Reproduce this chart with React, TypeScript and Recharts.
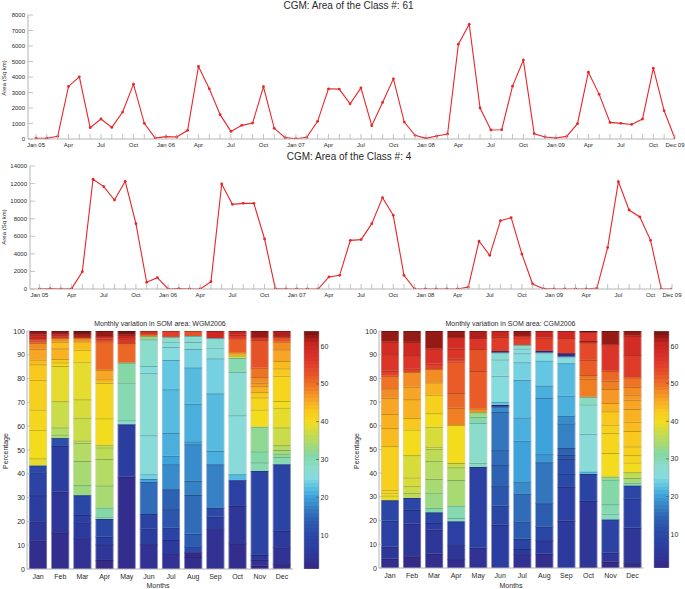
import React from 'react';
import { LineChart, Line, XAxis, YAxis, BarChart, Bar } from 'recharts';

// ---------- line chart data ----------
const monthIndex = Array.from({ length: 60 }, (_, i) => i);
const class61Area = [50, 50, 170, 3390, 4010, 730, 1290, 750, 1740, 3540, 1010, 60,
  150, 130, 560, 4680, 3240, 1570, 490, 880, 1030, 3370, 690, 90,
  20, 110, 1140, 3240, 3220, 2270, 3300, 860, 2360, 3880, 1090, 240,
  40, 190, 320, 6120, 7400, 2000, 580, 600, 3410, 5090, 340, 130,
  60, 170, 990, 4310, 2880, 1070, 1010, 940, 1290, 4570, 1820, 20];
const class4Area = [0, 40, 0, 40, 1970, 12490, 11650, 10130, 12260, 7440, 760, 1290,
  0, 40, 0, 0, 830, 11950, 9640, 9750, 9750, 5690, 40, 0,
  0, 0, 0, 1370, 1560, 5540, 5620, 7440, 10400, 8390, 1560, 0,
  0, 0, 0, 0, 230, 5460, 3830, 7780, 8120, 3980, 570, 40,
  0, 0, 0, 0, 110, 4710, 12220, 8990, 8200, 5540, 0, 0];
const lineTickIndex = [0, 3, 6, 9, 12, 15, 18, 21, 24, 27, 30, 33, 36, 39, 42, 45, 48, 51, 54, 57, 59];
const lineTickText = ['Jan 05', 'Apr', 'Jul', 'Oct', 'Jan 06', 'Apr', 'Jul', 'Oct', 'Jan 07', 'Apr', 'Jul', 'Oct',
  'Jan 08', 'Apr', 'Jul', 'Oct', 'Jan 09', 'Apr', 'Jul', 'Oct', 'Dec 09'];
const class61Ticks = [0, 1000, 2000, 3000, 4000, 5000, 6000, 7000, 8000];
const class4Ticks = [0, 2000, 4000, 6000, 8000, 10000, 12000, 14000];

// ---------- stacked bar data: [class number, percentage] from bottom to top ----------
const months = ['Jan', 'Feb', 'Mar', 'Apr', 'May', 'Jun', 'Jul', 'Aug', 'Sep', 'Oct', 'Nov', 'Dec'];
const pctTicks = [0, 10, 20, 30, 40, 50, 60, 70, 80, 90, 100];
const colorbarTicks = [10, 20, 30, 40, 50, 60];
const colorbarRange = [{ k: 'cb', range: [1, 64] }];

const wgmSegments: [number, number][][] = [
  [[2, 12], [4, 8], [6, 11], [8, 9.6], [10, 2.9], [39, 3], [40, 12], [41, 8.5], [42, 12.5], [43, 6.5], [44, 2], [46, 4.5], [48, 2.5], [52, 1], [56, 1], [60, 1.5], [63, 1.5]],
  [[2, 15.4], [4, 17.1], [6, 19.2], [11, 3.3], [34, 1.5], [35, 3], [37, 11], [39, 14.8], [41, 1.5], [43, 1.4], [45, 4.5], [44, 2.8], [48, 1.5], [52, 0.5], [58, 1], [63, 1.5]],
  [[1, 0.3], [3, 12.6], [5, 6.7], [7, 3.1], [9, 8.3], [33, 4.2], [34, 10.2], [35, 7.6], [36, 1], [37, 9.6], [38, 7.7], [39, 15.8], [41, 5], [44, 3.5], [48, 1.5], [62, 1.5], [64, 1.4]],
  [[1, 3.8], [4, 6.6], [6, 3.2], [9, 7.4], [30, 1], [31, 3.8], [34, 9.3], [35, 11.1], [36, 4.9], [37, 1.1], [40, 11.1], [41, 14.9], [44, 1.5], [46, 4], [51, 11.9], [55, 1.2], [59, 1], [63, 2.2]],
  [[2, 38.8], [6, 22], [28, 1.7], [30, 15.8], [31, 8.4], [51, 8.2], [57, 2], [61, 1.5], [64, 1.6]],
  [[3, 10.4], [6, 6.6], [8, 6.1], [15, 13.6], [20, 1.1], [24, 2], [26, 16.4], [27, 26.2], [25, 2.9], [28, 11.2], [33, 1.3], [50, 0.8], [58, 1.4]],
  [[3, 6.6], [5, 5.6], [8, 5.2], [12, 7.7], [14, 8.4], [18, 10.5], [20, 3.6], [21, 9.5], [22, 18.4], [23, 12.3], [25, 5.5], [26, 2.2], [28, 2], [55, 2.5]],
  [[2, 5], [1, 2], [10, 2.5], [13, 5.3], [15, 16.3], [17, 5.9], [18, 15.4], [20, 1.2], [21, 15.8], [22, 15.3], [24, 7.7], [26, 3], [27, 2.5], [53, 2.1]],
  [[3, 16.7], [6, 5.3], [10, 3.8], [17, 18.2], [21, 5.6], [22, 24.2], [24, 14.7], [26, 4.5], [27, 4], [60, 3]],
  [[2, 10.8], [4, 15.7], [7, 10.8], [22, 2.5], [26, 24.8], [27, 18.2], [30, 5.9], [38, 1], [46, 1.3], [52, 5.9], [57, 1.5], [61, 1.6]],
  [[1, 1.3], [3, 2.5], [4, 2.1], [8, 35.3], [30, 3.6], [31, 4.6], [32, 10.4], [40, 7.2], [41, 5.1], [43, 2.2], [45, 2.5], [47, 1.5], [48, 2.3], [50, 4], [53, 11.6], [57, 1.2], [63, 2.6]],
  [[1, 2], [3, 7.1], [5, 6.9], [8, 28], [30, 3], [32, 1.5], [34, 1.5], [35, 2], [37, 7.5], [39, 8.3], [40, 2.8], [41, 10.6], [43, 3.1], [44, 3.1], [46, 4.9], [48, 3.2], [53, 2], [62, 2.5]],
];

const cgmSegments: [number, number][][] = [
  [[2, 3.9], [4, 5.1], [7, 11], [9, 8.6], [39, 2], [40, 1.2], [41, 1.2], [42, 18.4], [44, 7.6], [45, 6], [46, 6.8], [48, 4], [50, 5.3], [55, 2.1], [57, 7], [59, 5.3], [63, 4.5]],
  [[1, 4.9], [4, 13.8], [6, 5.8], [9, 5.1], [36, 2.1], [37, 3], [38, 3.5], [38, 9.4], [40, 10.8], [43, 4.9], [45, 7.9], [46, 5.3], [48, 6.2], [55, 1.5], [57, 5.6], [60, 5.6], [63, 4.6]],
  [[2, 6], [4, 10.2], [6, 2.8], [8, 4.5], [31, 1.9], [33, 6.4], [34, 5.8], [35, 7.6], [36, 5.1], [37, 0.9], [38, 8.4], [40, 5.7], [42, 7.8], [45, 5.2], [48, 5.6], [55, 2.3], [58, 6.4], [63, 7.4]],
  [[2, 3.7], [4, 5.9], [7, 10.1], [29, 1.4], [30, 5.2], [34, 10.8], [35, 5.4], [37, 1.8], [40, 16], [49, 7.3], [51, 6.2], [52, 13.3], [55, 1.3], [57, 4.1], [59, 4.9], [63, 2.6]],
  [[3, 8.6], [7, 34.1], [29, 1.7], [28, 16.8], [31, 2.6], [33, 1.9], [48, 1.6], [52, 15.8], [53, 9.3], [57, 4.6], [62, 3]],
  [[6, 18.2], [9, 8.1], [12, 8.2], [14, 8.9], [15, 6.3], [16, 16.1], [18, 2.2], [2, 0.8], [23, 1.2], [25, 11.1], [26, 6.9], [27, 2.9], [1, 0.6], [56, 6], [61, 2.5]],
  [[1, 0.4], [3, 5.4], [5, 2.2], [8, 4.3], [13, 7.3], [15, 11.8], [18, 5.1], [20, 17.2], [21, 9.8], [22, 15.9], [24, 7.4], [25, 3.8], [26, 2], [27, 1.5], [55, 3.2], [60, 1], [63, 1.7]],
  [[2, 6], [5, 5.7], [9, 5.8], [13, 9.8], [16, 17.3], [19, 3.4], [20, 23.7], [21, 5.3], [23, 10.5], [25, 3.4], [1, 0.8], [56, 5.5], [61, 2.8]],
  [[5, 19.9], [7, 14.3], [10, 5.4], [11, 6.4], [12, 1.7], [14, 2.9], [17, 10.4], [18, 3.3], [21, 8.4], [22, 13.7], [25, 2.8], [1, 1.4], [55, 6.4], [60, 3]],
  [[1, 0.4], [4, 27.9], [8, 11.4], [22, 1], [26, 15.9], [27, 12.4], [29, 3.2], [49, 7.7], [50, 1.5], [52, 6.4], [54, 7.4], [63, 0.5], [57, 3.9], [64, 0.4]],
  [[1, 2.7], [4, 3.8], [8, 14], [29, 2.4], [30, 4], [31, 10.4], [33, 1.3], [40, 9.9], [41, 8.5], [42, 3.5], [43, 5.6], [45, 3.5], [47, 5.9], [49, 3.5], [51, 4.2], [57, 11.2], [63, 5.6]],
  [[1, 2], [4, 15], [7, 12.3], [9, 5.5], [30, 1.2], [34, 2], [36, 2.4], [40, 4.1], [41, 3.1], [42, 3.7], [43, 6.5], [44, 3.9], [45, 5.4], [46, 3.9], [47, 2.2], [48, 3.2], [50, 4], [56, 9.4], [59, 8.2], [63, 2]],
];

// ---------- colours ----------
const colormapStops: [number, string][] = [
  [1, '#352a87'], [5, '#2c3a9e'], [10, '#2a4aa8'], [14, '#2d62b2'], [17, '#3680c4'], [20, '#3ea3da'],
  [23, '#63c6e2'], [25, '#86dbdf'], [28, '#8cdccb'], [31, '#84d8a6'], [34, '#a7da72'], [37, '#cadc4a'],
  [40, '#f3dc1e'], [43, '#f9c81e'], [46, '#f7a526'], [49, '#f07f24'], [52, '#e95b27'], [55, '#e1402a'],
  [58, '#d83028'], [61, '#c8251f'], [64, '#7c1512'],
];
const hex2rgb = (h: string) => [parseInt(h.slice(1, 3), 16), parseInt(h.slice(3, 5), 16), parseInt(h.slice(5, 7), 16)];
const rgb2hex = (c: number[]) => '#' + c.map((v) => Math.max(0, Math.min(255, Math.round(v))).toString(16).padStart(2, '0')).join('');
function classColor(k: number): string {
  for (let i = 0; i < colormapStops.length - 1; i++) {
    const [a, ca] = colormapStops[i];
    const [b, cb] = colormapStops[i + 1];
    if (k <= b) {
      const t = Math.max(0, (k - a) / (b - a));
      const A = hex2rgb(ca), B = hex2rgb(cb);
      return rgb2hex(A.map((v, j) => v + (B[j] - v) * t));
    }
  }
  return colormapStops[colormapStops.length - 1][1];
}
const darken = (h: string, f: number) => rgb2hex(hex2rgb(h).map((v) => v * f));

function buildRows(segs: [number, number][][]) {
  return months.map((m, mi) => {
    const row: any = { month: m };
    segs[mi].forEach(([cls, pct], i) => {
      row[`s${i}`] = pct;
      row[`c${i}`] = classColor(cls);
    });
    return row;
  });
}
const wgmRows = buildRows(wgmSegments);
const cgmRows = buildRows(cgmSegments);
const wgmN = Math.max(...wgmSegments.map((s) => s.length));
const cgmN = Math.max(...cgmSegments.map((s) => s.length));

const AXIS = '#b4b4b4';
const TXT = '#2a2a2a';
const RED = '#e8262a';

// ---------- tick renderers ----------
const BottomMonthTick = (p: any) => {
  const { x, y, payload } = p;
  const k = lineTickIndex.indexOf(payload.value);
  return (
    <g>
      <line x1={x} x2={x} y1={y} y2={y - 5} stroke={AXIS} strokeWidth={0.8} />
      {k >= 0 && (
        <text x={x} y={y + 8} textAnchor="middle" fontSize={6} fill={TXT}>{lineTickText[k]}</text>
      )}
    </g>
  );
};
const TopMonthTick = (p: any) => (
  <line x1={p.x} x2={p.x} y1={p.y} y2={p.y + 5} stroke={AXIS} strokeWidth={0.8} />
);
const LeftValueTick = (p: any) => (
  <g>
    <text x={p.x} y={p.y} dy={2} textAnchor="end" fontSize={6} fill={TXT}>{p.payload.value}</text>
    <line x1={p.x + 3} x2={p.x + 8} y1={p.y} y2={p.y} stroke={AXIS} strokeWidth={0.8} />
  </g>
);
const RightValueTick = (p: any) => (
  <line x1={p.x} x2={p.x - 5} y1={p.y} y2={p.y} stroke={AXIS} strokeWidth={0.8} />
);
const MonthTick = (p: any) => (
  <text x={p.x} y={p.y} dy={9.5} textAnchor="middle" fontSize={7} fill={TXT}>{p.payload.value}</text>
);
const PctTick = (p: any) => (
  <g>
    <text x={p.x} y={p.y} dy={2.5} textAnchor="end" fontSize={7} fill={TXT}>{p.payload.value}</text>
    <line x1={p.x + 2} x2={p.x + 5} y1={p.y} y2={p.y} stroke={AXIS} strokeWidth={0.8} />
  </g>
);
const CbTick = (p: any) => (
  <g>
    <line x1={p.x} x2={p.x - 3} y1={p.y} y2={p.y} stroke="#555" strokeWidth={0.7} />
    <text x={p.x + 1.5} y={p.y} dy={2.5} textAnchor="start" fontSize={7} fill={TXT}>{p.payload.value}</text>
  </g>
);

const segShape = (colorKey: string) => (p: any) => {
  const { x, y, width, height, payload } = p;
  if (!height || height <= 0 || !payload || !payload[colorKey]) return <g />;
  const c = payload[colorKey];
  return (
    <g>
      <rect x={x} y={y} width={width} height={height} fill={c} />
      <line x1={x} x2={x + width} y1={y + 0.4} y2={y + 0.4} stroke={darken(c, 0.68)} strokeWidth={0.8} />
      <line x1={x + 0.25} x2={x + 0.25} y1={y} y2={y + height} stroke="#d6d6d6" strokeWidth={0.5} />
      <line x1={x + width - 0.25} x2={x + width - 0.25} y1={y} y2={y + height} stroke="#d6d6d6" strokeWidth={0.5} />
    </g>
  );
};

function AreaLine({ values, ticks, domainMax, height, margin, yWidth, xDomain }: any) {
  const data = monthIndex.map((i) => ({ i, v: values[i] }));
  return (
    <LineChart width={685} height={height} data={data} margin={margin}>
      <XAxis xAxisId="b" dataKey="i" type="number" domain={xDomain} ticks={monthIndex} interval={0}
        allowDataOverflow height={11} tickSize={0} tickMargin={0} tickLine={false}
        axisLine={{ stroke: AXIS }} tick={BottomMonthTick} />
      <XAxis xAxisId="t" dataKey="i" type="number" orientation="top" domain={xDomain} ticks={monthIndex}
        interval={0} allowDataOverflow height={0} tickSize={0} tickMargin={0} tickLine={false}
        axisLine={{ stroke: AXIS }} tick={TopMonthTick} />
      <YAxis yAxisId="l" type="number" domain={[0, domainMax]} ticks={ticks} interval={0} allowDataOverflow
        width={yWidth} tickSize={0} tickMargin={3} tickLine={false} axisLine={{ stroke: AXIS }} tick={LeftValueTick} />
      <YAxis yAxisId="r" orientation="right" type="number" domain={[0, domainMax]} ticks={ticks} interval={0}
        allowDataOverflow width={0} tickSize={0} tickMargin={0} tickLine={false} axisLine={{ stroke: AXIS }}
        tick={RightValueTick} />
      <Line xAxisId="b" yAxisId="l" dataKey="v" type="linear" stroke={RED} strokeWidth={1.1}
        dot={{ r: 1.4, fill: RED, stroke: 'none' }} isAnimationActive={false} />
    </LineChart>
  );
}

function SegmentBars({ rows, n, width, margin, yWidth, xHeight }: any) {
  return (
    <BarChart width={width} height={289} data={rows} margin={margin} barSize={18}>
      <XAxis dataKey="month" height={xHeight} tickLine={false} tickSize={0} tickMargin={0}
        axisLine={{ stroke: AXIS }} tick={MonthTick} interval={0} />
      <YAxis type="number" domain={[0, 100]} ticks={pctTicks} allowDataOverflow width={yWidth} tickSize={0}
        tickMargin={2} tickLine={false} axisLine={{ stroke: AXIS }} tick={PctTick} interval={0} />
      {Array.from({ length: n }, (_, i) => (
        <Bar key={i} dataKey={`s${i}`} stackId="m" isAnimationActive={false} shape={segShape(`c${i}`)} />
      ))}
    </BarChart>
  );
}

function ColorBar({ id, bottom }: { id: string; bottom: number }) {
  const stops: any[] = [];
  for (let k = 1; k <= 64; k++) {
    const c = classColor(k);
    stops.push(<stop key={`a${k}`} offset={(k - 1) / 64} stopColor={c} />);
    stops.push(<stop key={`b${k}`} offset={k / 64} stopColor={c} />);
  }
  return (
    <BarChart width={45} height={289} data={colorbarRange} margin={{ top: 31, right: 0, left: 8, bottom }}
      barCategoryGap={0}>
      <defs>
        <linearGradient id={id} x1="0" y1="1" x2="0" y2="0">{stops}</linearGradient>
      </defs>
      <XAxis dataKey="k" hide />
      <YAxis orientation="right" type="number" domain={[1, 64]} ticks={colorbarTicks} allowDataOverflow
        width={22} tickSize={0} tickMargin={0} tickLine={false} axisLine={false} tick={CbTick} interval={0} />
      <Bar dataKey="range" fill={`url(#${id})`} stroke="#9a9a9a" strokeWidth={0.5} isAnimationActive={false} />
    </BarChart>
  );
}

export default function App() {
  return (
    <div style={{ position: 'absolute', left: 0, top: 0, width: 685, height: 589, background: '#fff',
      fontFamily: '"Liberation Sans", Arial, sans-serif', overflow: 'hidden' }}>
      <div style={{ position: 'absolute', left: 0, top: 0 }}>
        <AreaLine values={class61Area} ticks={class61Ticks} domainMax={8000} height={150}
          margin={{ top: 15, right: 10, bottom: 0, left: 0 }} yWidth={28} xDomain={[-0.74, 59]} />
      </div>
      <div style={{ position: 'absolute', left: 0, top: 150 }}>
        <AreaLine values={class4Area} ticks={class4Ticks} domainMax={14000} height={150}
          margin={{ top: 16, right: 13, bottom: 0, left: 0 }} yWidth={30} xDomain={[-0.88, 59]} />
      </div>
      <div style={{ position: 'absolute', left: 0, top: 300 }}>
        <SegmentBars rows={wgmRows} n={wgmN} width={300} yWidth={27} xHeight={20}
          margin={{ top: 31, right: 7, bottom: 0, left: 0 }} />
      </div>
      <div style={{ position: 'absolute', left: 296, top: 300 }}>
        <ColorBar id="cbarL" bottom={20} />
      </div>
      <div style={{ position: 'absolute', left: 340, top: 300 }}>
        <SegmentBars rows={cgmRows} n={cgmN} width={310} yWidth={39} xHeight={21}
          margin={{ top: 31, right: 6.5, bottom: 0, left: 0 }} />
      </div>
      <div style={{ position: 'absolute', left: 646, top: 300 }}>
        <ColorBar id="cbarR" bottom={21} />
      </div>
      <svg width={685} height={589} style={{ position: 'absolute', left: 0, top: 0, pointerEvents: 'none' }}>
        <text x={348.5} y={9.3} textAnchor="middle" fontSize={10} fill={TXT}>CGM: Area of the Class #: 61</text>
        <text x={349} y={160} textAnchor="middle" fontSize={10} fill={TXT}>CGM: Area of the Class #: 4</text>
        <text transform="translate(5.5,78) rotate(-90)" textAnchor="middle" fontSize={6} fill={TXT}>Area (Sq km)</text>
        <text transform="translate(6,227) rotate(-90)" textAnchor="middle" fontSize={6} fill={TXT}>Area (Sq km)</text>
        <text x={160} y={326} textAnchor="middle" fontSize={7} fill={TXT}>Monthly variation in SOM area: WGM2006</text>
        <text x={510.5} y={326} textAnchor="middle" fontSize={7} fill={TXT}>Monthly variation in SOM area: CGM2006</text>
        <text transform="translate(7.5,451) rotate(-90)" textAnchor="middle" fontSize={7} fill={TXT}>Percentage</text>
        <text transform="translate(359,451) rotate(-90)" textAnchor="middle" fontSize={7} fill={TXT}>Percentage</text>
        <text x={158} y={588} textAnchor="middle" fontSize={7} fill={TXT}>Months</text>
        <text x={511} y={587.5} textAnchor="middle" fontSize={7} fill={TXT}>Months</text>
      </svg>
    </div>
  );
}
